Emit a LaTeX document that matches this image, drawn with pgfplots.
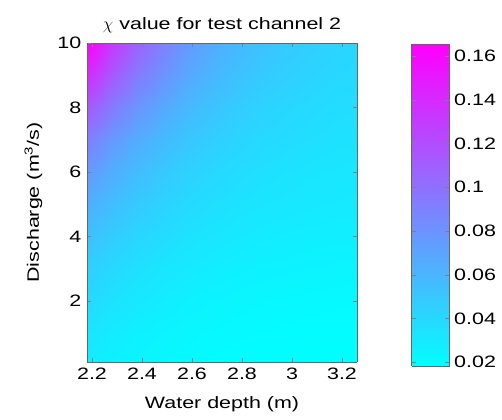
\documentclass[border=0pt]{standalone}
\usepackage{fontspec}
\setmainfont{Liberation Sans}[FakeStretch=1.3]
\usepackage{pgfplots}
\pgfplotsset{compat=1.18}
\begin{document}
\fontsize{16.5bp}{19bp}\selectfont
\begin{tikzpicture}
\begin{axis}[
  scale only axis,
  width=270bp, height=319bp,
  at={(0,0)}, anchor=south west,
  view={0}{90},
  xmin=2.18, xmax=3.26, ymin=0.1, ymax=10,
  xtick={2.2,2.4,2.6,2.8,3,3.2},
  ytick={2,4,6,8,10},
  tick align=inside,
  axis on top,
  axis line style={draw=black!60},
  /pgf/number format/assume math mode=true,
  font=\fontsize{16.5bp}{19bp}\selectfont,
  title={$\chi$ value for test channel 2},
  title style={yshift=-1bp},
  xlabel={Water depth (m)},
  xlabel style={yshift=-6bp},
  ylabel={Discharge (m\textsuperscript{3}/s)},
  ylabel style={yshift=4bp},
  colormap={cool}{rgb255=(0,255,255) rgb255=(255,0,255)},
  point meta min=0.0182, point meta max=0.1655,
  colorbar sampled,
  colorbar style={
    samples=160,
    width=38bp, height=322bp,
    at={(parent axis.north east)}, anchor=north west,
    xshift=46bp, yshift=-1bp,
    ytick={0.02,0.04,0.06,0.08,0.1,0.12,0.14,0.16},
    scaled y ticks=false,
    yticklabel style={/pgf/number format/fixed,/pgf/number format/precision=2,/pgf/number format/assume math mode=true, font=\fontsize{16.5bp}{19bp}\selectfont, xshift=-1bp},
    tick align=inside,
    axis line style={draw=black!60},
  },
]
\addplot3[surf, shader=interp] table {
x y z
2.18 0.1 0.0290
2.28 0.1 0.0262
2.38 0.1 0.0241
2.48 0.1 0.0226
2.58 0.1 0.0213
2.68 0.1 0.0204
2.78 0.1 0.0197
2.88 0.1 0.0192
2.98 0.1 0.0188
3.08 0.1 0.0185
3.18 0.1 0.0183
3.26 0.1 0.0182

2.18 1 0.0330
2.28 1 0.0294
2.38 1 0.0268
2.48 1 0.0250
2.58 1 0.0233
2.68 1 0.0222
2.78 1 0.0214
2.88 1 0.0207
2.98 1 0.0203
3.08 1 0.0199
3.18 1 0.0196
3.26 1 0.0195

2.18 2 0.0400
2.28 2 0.0350
2.38 2 0.0313
2.48 2 0.0287
2.58 2 0.0264
2.68 2 0.0248
2.78 2 0.0236
2.88 2 0.0227
2.98 2 0.0221
3.08 2 0.0216
3.18 2 0.0212
3.26 2 0.0210

2.18 3 0.0460
2.28 3 0.0402
2.38 3 0.0359
2.48 3 0.0329
2.58 3 0.0302
2.68 3 0.0284
2.78 3 0.0270
2.88 3 0.0260
2.98 3 0.0253
3.08 3 0.0247
3.18 3 0.0242
3.26 3 0.0240

2.18 4 0.0550
2.28 4 0.0476
2.38 4 0.0422
2.48 4 0.0383
2.58 4 0.0349
2.68 4 0.0327
2.78 4 0.0309
2.88 4 0.0295
2.98 4 0.0286
3.08 4 0.0279
3.18 4 0.0273
3.26 4 0.0270

2.18 5 0.0650
2.28 5 0.0558
2.38 5 0.0490
2.48 5 0.0442
2.58 5 0.0399
2.68 5 0.0371
2.78 5 0.0348
2.88 5 0.0331
2.98 5 0.0320
3.08 5 0.0311
3.18 5 0.0304
3.26 5 0.0300

2.18 6 0.0770
2.28 6 0.0652
2.38 6 0.0564
2.48 6 0.0502
2.58 6 0.0447
2.68 6 0.0411
2.78 6 0.0382
2.88 6 0.0360
2.98 6 0.0346
3.08 6 0.0334
3.18 6 0.0325
3.26 6 0.0320

2.18 7 0.0920
2.28 7 0.0770
2.38 7 0.0660
2.48 7 0.0581
2.58 7 0.0511
2.68 7 0.0465
2.78 7 0.0429
2.88 7 0.0401
2.98 7 0.0382
3.08 7 0.0368
3.18 7 0.0356
3.26 7 0.0350

2.18 8 0.1150
2.28 8 0.0945
2.38 8 0.0794
2.48 8 0.0686
2.58 8 0.0591
2.68 8 0.0528
2.78 8 0.0478
2.88 8 0.0439
2.98 8 0.0414
3.08 8 0.0395
3.18 8 0.0378
3.26 8 0.0370

2.18 9 0.1410
2.28 9 0.1144
2.38 9 0.0948
2.48 9 0.0809
2.58 9 0.0686
2.68 9 0.0604
2.78 9 0.0539
2.88 9 0.0490
2.98 9 0.0458
3.08 9 0.0432
3.18 9 0.0410
3.26 9 0.0400

2.18 10 0.1655
2.28 10 0.1330
2.38 10 0.1091
2.48 10 0.0920
2.58 10 0.0770
2.68 10 0.0669
2.78 10 0.0590
2.88 10 0.0530
2.98 10 0.0490
3.08 10 0.0460
3.18 10 0.0432
3.26 10 0.0420
};
\end{axis}
\pgfresetboundingbox
\useasboundingbox (-87bp,-58bp) rectangle (415bp,362bp);
\end{tikzpicture}
\end{document}
